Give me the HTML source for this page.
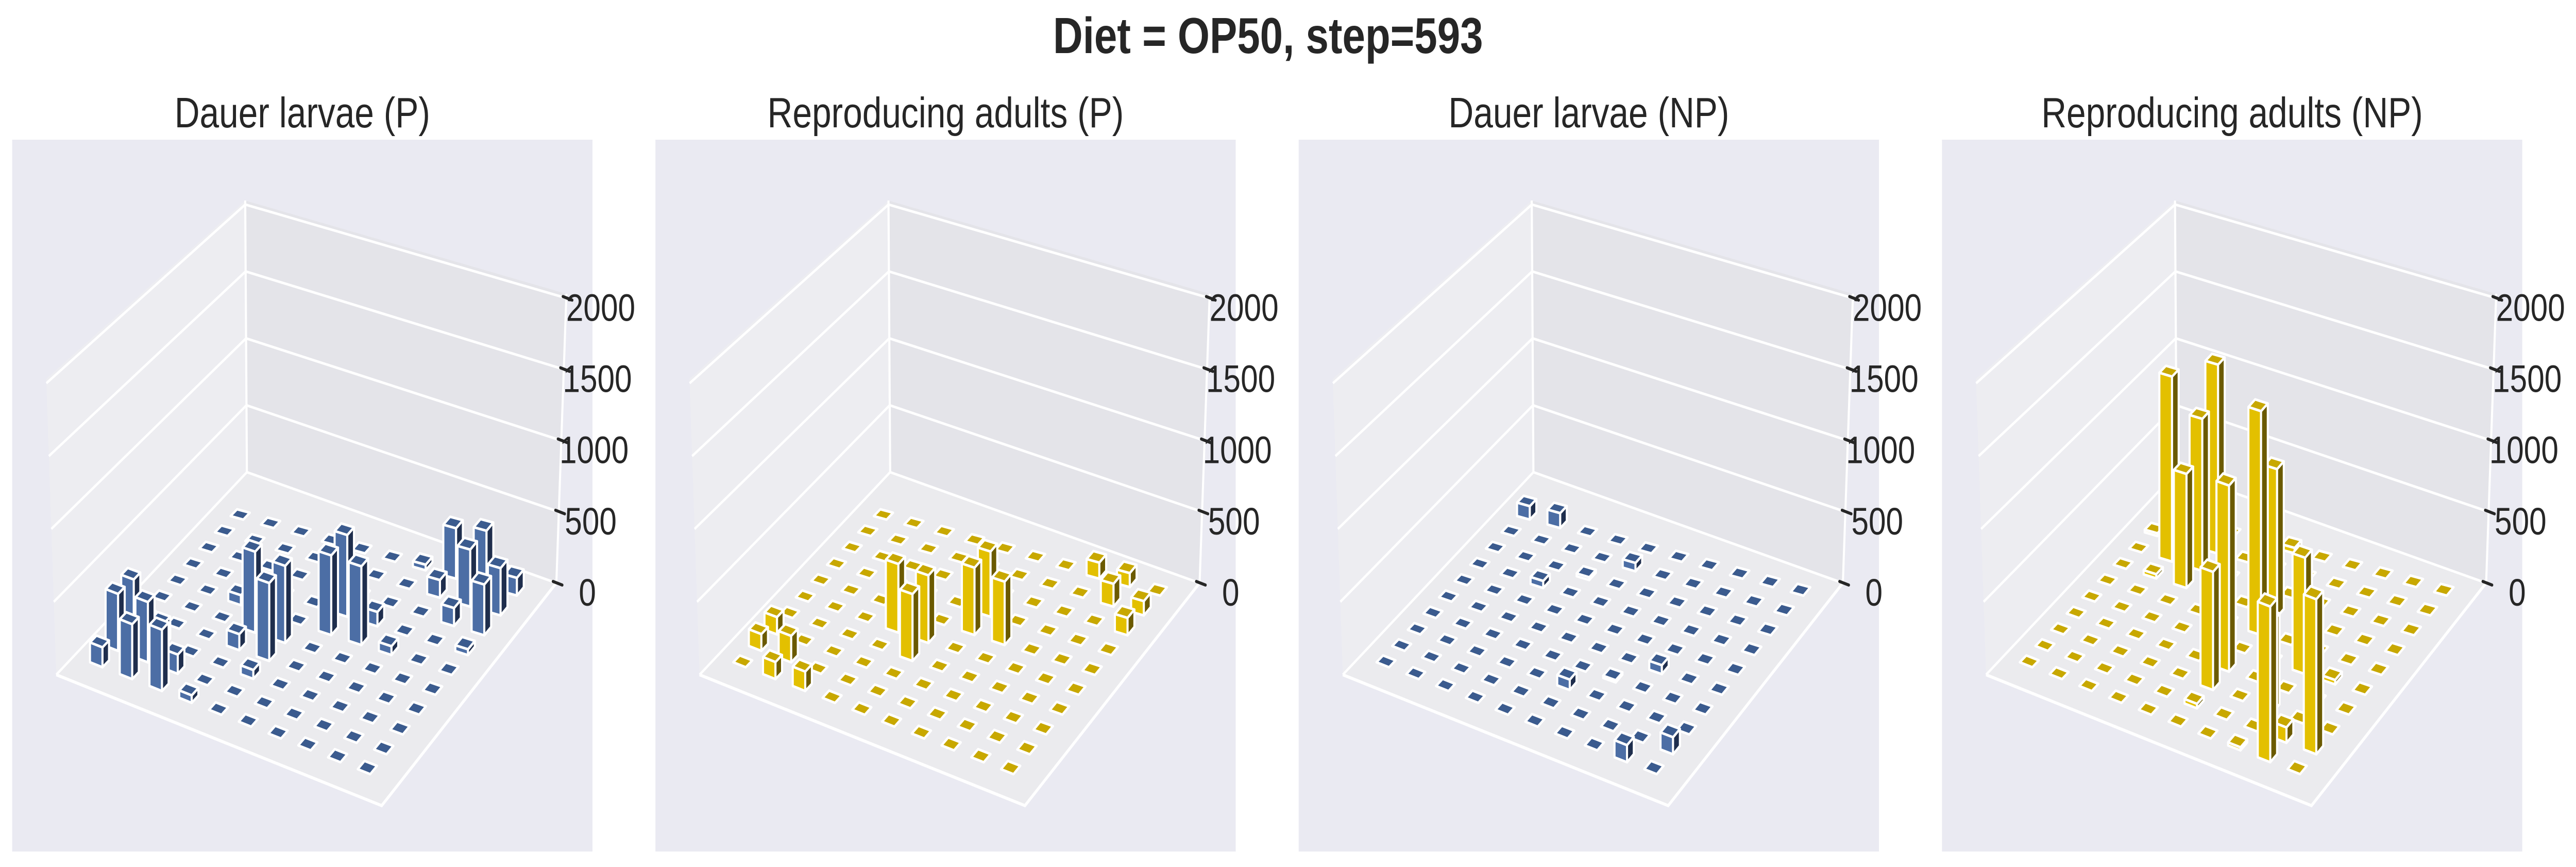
<!DOCTYPE html>
<html><head><meta charset="utf-8"><title>Diet = OP50, step=593</title>
<style>
html,body{margin:0;padding:0;background:#fff;overflow:hidden;width:100vw;height:100vh;}
svg{display:block;width:100vw;height:100vh;font-family:"Liberation Sans",Arial,sans-serif;}
</style></head>
<body>
<svg id="fig" xmlns="http://www.w3.org/2000/svg" viewBox="0 0 6135 1682" preserveAspectRatio="none">
<rect x="0" y="0" width="6135" height="1682" fill="#ffffff"/>
<text x="3020" y="103" text-anchor="middle" font-size="98" font-weight="bold" fill="#262626">Diet = OP50, step=593</text>
</svg>
<script>
// ---- chart data (10x10 grids, row = index a, column = index b) ----
const panelTitles = ["Dauer larvae (P)", "Reproducing adults (P)", "Dauer larvae (NP)", "Reproducing adults (NP)"];
const zTicks = [0, 500, 1000, 1500, 2000];
const zTickLabels = ["0", "500", "1000", "1500", "2000"];
const dauerP = [
 [0,0,0,0,0,0,40,360,400,125],
 [0,0,0,0,0,0,0,125,400,330],
 [0,0,0,0,0,0,0,0,125,350],
 [0,0,0,0,0,570,100,0,0,40],
 [0,0,70,0,0,550,540,60,0,0],
 [0,0,0,560,530,0,0,0,0,0],
 [0,0,0,110,530,0,0,0,0,0],
 [380,150,0,0,60,0,0,0,0,0],
 [390,410,130,0,0,0,0,0,0,0],
 [135,370,410,50,0,0,0,0,0,0]
];
const reproP = [
 [0,0,0,0,0,0,0,115,100,0],
 [0,0,0,0,0,0,0,0,160,100],
 [0,0,0,0,0,0,0,0,0,120],
 [0,0,0,0,0,455,0,0,0,0],
 [0,0,0,0,0,465,435,0,0,0],
 [0,0,0,475,465,0,0,0,0,0],
 [0,0,0,0,455,0,0,0,0,0],
 [120,0,0,0,0,0,0,0,0,0],
 [115,180,0,0,0,0,0,0,0,0],
 [0,115,130,0,0,0,0,0,0,0]
];
const dauerNP = [
 [100,110,0,0,0,0,0,0,0,0],
 [0,0,0,0,60,0,0,0,0,0],
 [0,0,0,20,0,0,0,0,0,0],
 [0,0,50,0,0,0,0,0,0,0],
 [0,0,0,0,0,0,0,0,0,0],
 [0,0,0,0,0,0,0,60,0,0],
 [0,0,0,0,0,0,15,0,0,0],
 [0,0,0,0,0,70,0,0,0,0],
 [0,0,0,0,0,0,0,0,0,110],
 [0,0,0,0,0,0,0,0,110,0]
];
const reproNP = [
 [0,0,0,0,40,0,0,0,0,0],
 [20,0,1370,0,0,0,0,0,0,0],
 [0,1335,1090,0,0,0,0,0,0,0],
 [0,30,810,0,0,1030,0,0,0,0],
 [0,0,0,0,0,1545,0,0,0,0],
 [0,0,0,0,0,0,0,785,30,0],
 [0,0,0,0,0,1258,0,0,0,0],
 [0,0,0,0,0,790,0,600,0,0],
 [0,0,0,0,0,30,0,0,100,1000],
 [0,0,0,0,0,0,0,20,1000,0]
];
const panelData = [dauerP, reproP, dauerNP, reproNP];
const panelPalette = ["blue", "yellow", "blue", "yellow"];

// ---- geometry (panel-local projection) ----
const NS = "http://www.w3.org/2000/svg";
const svg = document.getElementById("fig");
const PANEL_STEP = 1532;
const BG = {x: 29, y: 271, w: 1382, h: 1381};
const FB = [588,916], FL = [134,1309], FR = [1325,1131], FF = [909,1563];
const TB = [584,389], TL = [110,735], TR = [1349,570];
const C00 = [572,998], C90 = [237,1283], C09 = [1224,1144], C99 = [875,1489];
const ZTOP = 2030;
const COLORS = {
  blue:   {face:"#4c6ea5", top:"#3b5b8e", side:"#1f2e4d"},
  yellow: {face:"#e3c000", top:"#c8a800", side:"#6b5a00"}
};
function cellPt(a, b) {
  const u = a / 9, v = b / 9;
  const x = C00[0] + (C90[0]-C00[0])*u + (C09[0]-C00[0])*v + (C99[0]-C90[0]-C09[0]+C00[0])*u*v;
  const y = C00[1] + (C90[1]-C00[1])*u + (C09[1]-C00[1])*v + (C99[1]-C90[1]-C09[1]+C00[1])*u*v;
  return [x, y];
}
function zScale(a, b) {
  const u = a / 9, v = b / 9;
  return 0.262 + 0.024*u + 0.013*v + 0.005*u*v;
}
function lerp(p, q, t) { return [p[0]+(q[0]-p[0])*t, p[1]+(q[1]-p[1])*t]; }
function wallPt(base, top, z) { return lerp(base, top, z / ZTOP); }
function mk(tag, attrs, parent) {
  const el = document.createElementNS(NS, tag);
  for (const k in attrs) el.setAttribute(k, attrs[k]);
  (parent || svg).appendChild(el);
  return el;
}
function pts(arr) { return arr.map(p => p[0].toFixed(1)+","+p[1].toFixed(1)).join(" "); }

panelData.forEach(function(grid, k) {
  const g = mk("g", {transform: "translate(" + (k*PANEL_STEP) + ",0)"});
  
  

  const bg = mk("rect", {x: BG.x, y: BG.y, width: BG.w, height: BG.h, fill: "#eaeaf2"}, g);
  
  

  const title = mk("text", {x: BG.x + BG.w/2, y: 247, "text-anchor": "middle", "font-size": 83, fill: "#262626"}, g);
  title.textContent = panelTitles[k];
  
  

  const lp = mk("polygon", {points: pts([FB, FL, TL, TB]), fill: "#ededf1"}, g);
  
  
  const rp = mk("polygon", {points: pts([FB, FR, TR, TB]), fill: "#e4e4e9"}, g);
  
  
  const fp = mk("polygon", {points: pts([FB, FL, FF, FR]), fill: "#ebebee"}, g);
  
  

  zTicks.forEach(function(z) {
    if (z === 0) return;
    const pb = wallPt(FB, TB, z), pl = wallPt(FL, TL, z), pr = wallPt(FR, TR, z);
    const gl = mk("polyline", {points: pts([pl, pb, pr]), fill: "none", stroke: "#ffffff", "stroke-width": 5}, g);
    
    
  });
  const edges = mk("polyline", {points: pts([FL, FB, FR]), fill: "none", stroke: "#ffffff", "stroke-width": 5}, g);
  
  
  const fe = mk("polyline", {points: pts([FL, FF, FR]), fill: "none", stroke: "#ffffff", "stroke-width": 6}, g);
  
  
  const bv = mk("line", {x1: FB[0], y1: FB[1], x2: TB[0], y2: TB[1], stroke: "#ffffff", "stroke-width": 5}, g);
  
  
  const za = mk("line", {x1: FR[0], y1: FR[1], x2: TR[0], y2: TR[1], stroke: "#ffffff", "stroke-width": 5}, g);
  
  

  zTicks.forEach(function(z, i) {
    const p = wallPt(FR, TR, z);
    const t = mk("line", {x1: p[0]-8, y1: p[1]-3, x2: p[0]+14, y2: p[1]+4, stroke: "#262626", "stroke-width": 6, "stroke-linecap": "round"}, g);
    
    
    const lab = mk("text", {x: p[0] + 74 + z*0.004, y: p[1] + 44, "text-anchor": "middle", "font-size": 74, fill: "#262626"}, g);
    lab.textContent = zTickLabels[i];
    
    
  });

  const cells = [];
  for (let a = 0; a < 10; a++) for (let b = 0; b < 10; b++) cells.push([a, b, grid[a][b]]);
  cells.sort(function(p, q) { return (p[0]+p[1]) - (q[0]+q[1]) || (p[1]-q[1]); });
  const col = COLORS[panelPalette[k]];
  const w = 0.21;
  cells.forEach(function(c) {
    const a = c[0], b = c[1], h = c[2];
    const s = zScale(a, b) * h;
    const pBack = cellPt(a-w, b-w), pLeft = cellPt(a+w, b-w), pFront = cellPt(a+w, b+w), pRight = cellPt(a-w, b+w);
    const up = function(p) { return [p[0], p[1] - s]; };
    const bar = mk("g", {stroke: "#ffffff", "stroke-width": 5, "stroke-linejoin": "round"}, g);
    
    
    if (h > 0) {
      mk("polygon", {points: pts([pLeft, pFront, up(pFront), up(pLeft)]), fill: col.face}, bar);
      mk("polygon", {points: pts([pFront, pRight, up(pRight), up(pFront)]), fill: col.side}, bar);
    }
    mk("polygon", {points: pts([up(pBack), up(pLeft), up(pFront), up(pRight)]), fill: col.top}, bar);
  });
});
</script>
</body></html>
